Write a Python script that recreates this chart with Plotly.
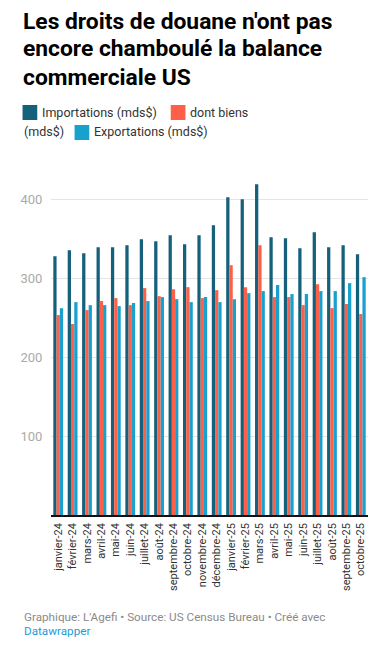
import plotly.graph_objects as go

months = ["janvier-24", "février-24", "mars-24", "avril-24", "mai-24", "juin-24",
          "juillet-24", "août-24", "septembre-24", "octobre-24", "novembre-24",
          "décembre-24", "janvier-25", "février-25", "mars-25", "avril-25", "mai-25",
          "juin-25", "juillet-25", "août-25", "septembre-25", "octobre-25"]
importations = [328.3, 335.9, 332.1, 339.7, 339.7, 342.2, 349.8, 347.3, 354.9, 343.5, 354.9,
                367.5, 403.0, 400.4, 419.4, 352.3, 351.1, 338.4, 358.6, 339.7, 342.2, 330.8]
dont_biens = [253.6, 242.2, 259.9, 271.3, 275.1, 266.2, 287.8, 277.6, 286.5, 289.0, 275.1,
              285.2, 316.9, 289.0, 342.2, 276.4, 276.4, 266.2, 292.8, 262.4, 267.5, 254.9]
exportations = [262.4, 270.0, 266.2, 266.2, 265.0, 268.8, 271.3, 276.4, 273.8, 270.0, 276.4,
                270.0, 273.8, 281.4, 284.0, 291.6, 280.2, 280.2, 284.0, 284.0, 294.1, 301.7]
y_ticks = [100, 200, 300, 400]

C_IMP = "#15607a"
C_BIENS = "#fe5f48"
C_EXP = "#18a1cd"

OFF = 8  # browser body margin
PAGE_W, PAGE_H = 384, 650
W, H = PAGE_W - OFF, PAGE_H - OFF
L, R, T, B = 45, 368, 176, 515  # plot area in page pixels


def px(x):
    return (x - L) / (R - L)


def py(y):
    return (B - y) / (B - T)


fig = go.Figure()
fig.add_bar(x=months, y=importations, name="Importations (mds$)", marker_color=C_IMP)
fig.add_bar(x=months, y=dont_biens, name="dont biens (mds$)", marker_color=C_BIENS)
fig.add_bar(x=months, y=exportations, name="Exportations (mds$)", marker_color=C_EXP)

fig.update_traces(marker_line_width=0, hoverinfo="skip")

font_family = "Roboto, Arial, sans-serif"

title_lines = ["Les droits de douane n'ont pas", "encore chamboulé la balance", "commerciale US"]
annotations = []
for i, line in enumerate(title_lines):
    annotations.append(dict(text="<b>" + line + "</b>", x=px(14), y=py(21 + 28 * i),
                            xref="paper", yref="paper", xanchor="left", yanchor="middle",
                            showarrow=False,
                            font=dict(family=font_family, size=22.8, color="#000000")))

legend_texts = [("Importations (mds$)", 34, 112), ("dont biens", 185, 112),
                ("(mds$)", 15, 132), ("Exportations (mds$)", 87, 132)]
for t, x, y in legend_texts:
    annotations.append(dict(text=t, x=px(x), y=py(y), xref="paper", yref="paper",
                            xanchor="left", yanchor="middle", showarrow=False,
                            font=dict(family=font_family, size=12.5, color="#333333")))

annotations += [
    dict(text="Graphique: L'Agefi • Source: US Census Bureau • Créé avec",
         x=px(15), y=py(617), xref="paper", yref="paper",
         xanchor="left", yanchor="middle", showarrow=False,
         font=dict(family=font_family, size=11.7, color="#8a8a8a")),
    dict(text="Datawrapper", x=px(15), y=py(631), xref="paper", yref="paper",
         xanchor="left", yanchor="middle", showarrow=False,
         font=dict(family=font_family, size=11.7, color="#1d9bd7")),
]

shapes = []
for (x0, yc, col) in [(16, 112, C_IMP), (167, 112, C_BIENS), (69, 132, C_EXP)]:
    shapes.append(dict(type="rect", xref="paper", yref="paper",
                       x0=px(x0), x1=px(x0 + 15), y0=py(yc - 7), y1=py(yc + 8),
                       fillcolor=col, line=dict(width=0)))

fig.update_layout(
    width=W, height=H,
    margin=dict(l=L - OFF, r=PAGE_W - R, t=T - OFF, b=PAGE_H - B),
    paper_bgcolor="white", plot_bgcolor="white",
    barmode="group", bargap=0.32, bargroupgap=0,
    showlegend=False,
    font=dict(family=font_family),
    annotations=annotations,
    shapes=shapes,
)
fig.update_yaxes(range=[0, 430], tickmode="array", tickvals=y_ticks, showgrid=True,
                 gridcolor="#e4e4e4", gridwidth=1, zeroline=False, showline=False,
                 ticks="outside", ticklen=5, tickcolor="rgba(0,0,0,0)",
                 tickfont=dict(family=font_family, size=13, color="#aaaaaa"),
                 fixedrange=True)
fig.update_xaxes(type="category", tickmode="array", tickvals=months, ticktext=months,
                 tickangle=-90, showline=True, linecolor="#111111",
                 linewidth=1.5, ticks="outside", ticklen=2, tickcolor="rgba(0,0,0,0)",
                 showgrid=False,
                 tickfont=dict(family=font_family, size=11, color="#333333"),
                 fixedrange=True)

fig.write_html("out.html", config={"displayModeBar": False})
